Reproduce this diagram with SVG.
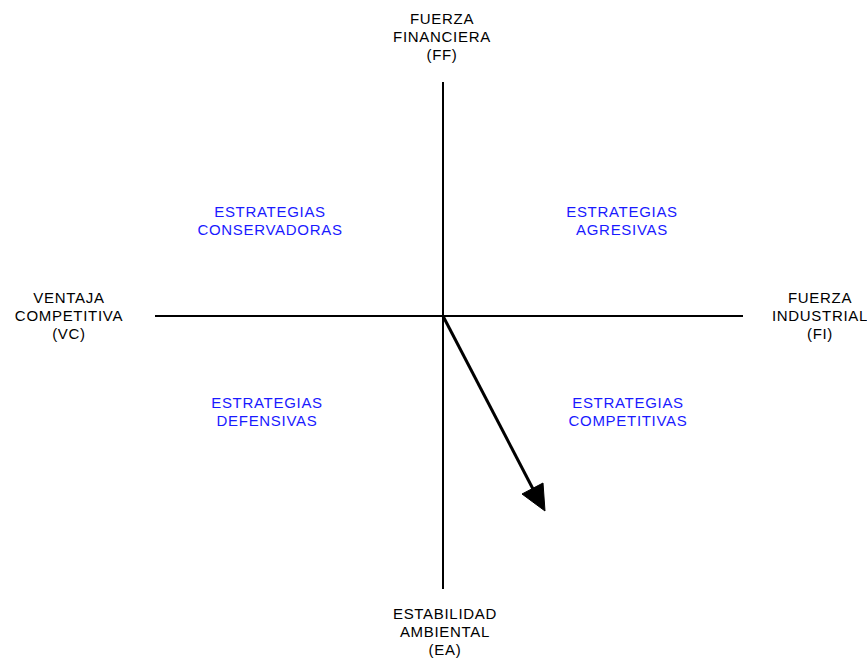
<svg xmlns="http://www.w3.org/2000/svg" width="867" height="658" viewBox="0 0 867 658">
<style>
text{font-family:"Liberation Sans",Arial,sans-serif;font-size:15px;letter-spacing:0.7px;text-anchor:middle;fill:#000}
.q{fill:#1a1aff}
.ax{stroke:#000;stroke-width:2;fill:none}
</style>
<rect width="867" height="658" fill="#fff"/>
<g id="connectors">
<line class="ax" x1="443" y1="82" x2="443" y2="589"/>
<line class="ax" x1="155" y1="316" x2="743" y2="316"/>
<line x1="443" y1="316" x2="533" y2="489" stroke="#000" stroke-width="3"/>
<polygon points="545,511 522,494 543,483" fill="#000" stroke="#000" stroke-width="1"/>
</g>
<g id="ff"><text x="442" y="24">FUERZA</text><text x="442" y="42">FINANCIERA</text><text x="442" y="60">(FF)</text></g>
<g id="vc"><text x="69" y="303">VENTAJA</text><text x="69" y="321">COMPETITIVA</text><text x="69" y="339">(VC)</text></g>
<g id="fi"><text x="820" y="303">FUERZA</text><text x="820" y="321">INDUSTRIAL</text><text x="820" y="339">(FI)</text></g>
<g id="ea"><text x="445" y="619">ESTABILIDAD</text><text x="445" y="637">AMBIENTAL</text><text x="445" y="655">(EA)</text></g>
<g id="conservadoras"><text class="q" x="270" y="217">ESTRATEGIAS</text><text class="q" x="270" y="235">CONSERVADORAS</text></g>
<g id="agresivas"><text class="q" x="622" y="217">ESTRATEGIAS</text><text class="q" x="622" y="235">AGRESIVAS</text></g>
<g id="defensivas"><text class="q" x="267" y="408">ESTRATEGIAS</text><text class="q" x="267" y="426">DEFENSIVAS</text></g>
<g id="competitivas"><text class="q" x="628" y="408">ESTRATEGIAS</text><text class="q" x="628" y="426">COMPETITIVAS</text></g>
</svg>
